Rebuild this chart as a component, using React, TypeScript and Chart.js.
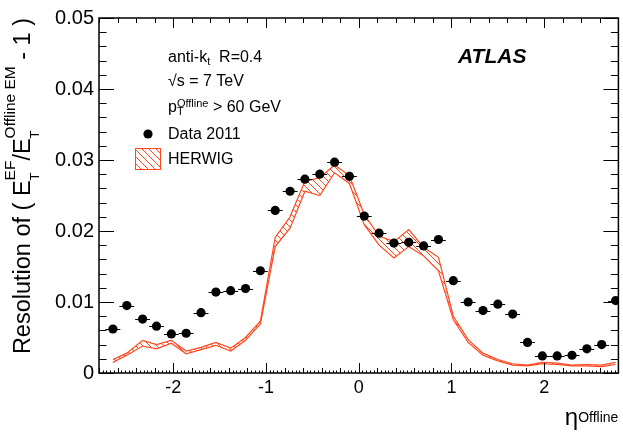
import React, { useEffect, useRef } from "react";
import { Chart, registerables } from "chart.js";

Chart.register(...registerables);

// ---- data ----
const ETA = [
  -2.65, -2.5, -2.33, -2.18, -2.02, -1.86, -1.7, -1.54, -1.38, -1.22, -1.06, -0.9,
  -0.74, -0.58, -0.42, -0.26, -0.1, 0.06, 0.22, 0.38, 0.54, 0.7, 0.86, 1.02,
  1.18, 1.34, 1.5, 1.66, 1.82, 1.98, 2.14, 2.3, 2.46, 2.62, 2.77,
];
const DATA_2011 = [
  0.0062, 0.0095, 0.0076, 0.0066, 0.0055, 0.0056, 0.0085, 0.0114, 0.0116, 0.0119, 0.0144, 0.0229,
  0.0256, 0.0273, 0.028, 0.0297, 0.0277, 0.0221, 0.0197, 0.0183, 0.0184, 0.0179, 0.0188, 0.013,
  0.01, 0.0088, 0.0097, 0.0083, 0.0043, 0.0024, 0.0024, 0.0025, 0.0034, 0.004, 0.0102,
];
const HERWIG_UP = [
  0.0019, 0.0028, 0.0046, 0.004, 0.0046, 0.0031, 0.0036, 0.0043, 0.0035, 0.005, 0.0073, 0.0191,
  0.022, 0.027, 0.0275, 0.0293, 0.0278, 0.0223, 0.0193, 0.0185, 0.0202, 0.0177, 0.0163, 0.008,
  0.0047, 0.0028, 0.0019, 0.0013, 0.0011, 0.0015, 0.0014, 0.0011, 0.0012, 0.0011, 0.0015,
];
const HERWIG_LO = [
  0.0015, 0.0025, 0.0038, 0.0034, 0.0042, 0.0027, 0.0033, 0.0039, 0.0031, 0.0046, 0.0069, 0.0178,
  0.0204, 0.0256, 0.025, 0.0282, 0.0267, 0.0209, 0.018, 0.0162, 0.0178, 0.0165, 0.0144, 0.0075,
  0.0043, 0.0025, 0.0017, 0.0011, 0.001, 0.0013, 0.0012, 0.001, 0.001, 0.0009, 0.0012,
];
const ETA_HALF_BIN = 0.08;
const X_MIN = -2.8;
const X_MAX = 2.8;
const Y_MIN = 0;
const Y_MAX = 0.05;

const FONT = '"Liberation Sans", Arial, Helvetica, sans-serif';
const ORANGE = "rgb(255,72,30)";

type Run = { t: string; size: number; dy?: number; bold?: boolean; italic?: boolean };
type Item = Run | Run[];

function fontOf(r: Run) {
  return `${r.italic ? "italic " : ""}${r.bold ? "bold " : ""}${r.size}px ${FONT}`;
}
function richWidth(ctx: CanvasRenderingContext2D, items: Item[]) {
  let w = 0;
  for (const it of items) {
    const runs = Array.isArray(it) ? it : [it];
    let m = 0;
    for (const r of runs) {
      ctx.font = fontOf(r);
      m = Math.max(m, ctx.measureText(r.t).width);
    }
    w += m;
  }
  return w;
}
function drawRich(ctx: CanvasRenderingContext2D, items: Item[], x: number, y: number) {
  let cx = x;
  for (const it of items) {
    const runs = Array.isArray(it) ? it : [it];
    let m = 0;
    for (const r of runs) {
      ctx.font = fontOf(r);
      ctx.fillText(r.t, cx, y + (r.dy || 0));
      m = Math.max(m, ctx.measureText(r.t).width);
    }
    cx += m;
  }
  return cx - x;
}

function makeHatch(color: string) {
  const s = 7;
  const c = document.createElement("canvas");
  c.width = s;
  c.height = s;
  const g = c.getContext("2d")!;
  g.strokeStyle = color;
  g.lineWidth = 1;
  g.beginPath();
  g.moveTo(-1, -1);
  g.lineTo(s + 1, s + 1);
  g.moveTo(s - 1, -1);
  g.lineTo(s + 1, 1);
  g.moveTo(-1, s - 1);
  g.lineTo(1, s + 1);
  g.stroke();
  return g.createPattern(c, "repeat")!;
}

export default function App() {
  const ref = useRef<HTMLCanvasElement>(null);

  useEffect(() => {
    document.body.style.margin = "0";
    document.body.style.overflow = "hidden";
    const canvas = ref.current!;
    const hatch = makeHatch(ORANGE);

    const errorBars = {
      id: "errorBars",
      afterDatasetsDraw(chart: any) {
        const { ctx, chartArea: a, scales } = chart;
        const xs = scales.x;
        const ys = scales.y;
        ctx.save();
        ctx.beginPath();
        ctx.rect(a.left, a.top, a.right - a.left, a.bottom - a.top);
        ctx.clip();
        ctx.strokeStyle = "#000";
        ctx.lineWidth = 1;
        ETA.forEach((e, i) => {
          const y = Math.round(ys.getPixelForValue(DATA_2011[i])) + 0.5;
          ctx.beginPath();
          ctx.moveTo(xs.getPixelForValue(e - ETA_HALF_BIN), y);
          ctx.lineTo(xs.getPixelForValue(e + ETA_HALF_BIN), y);
          ctx.stroke();
        });
        ctx.restore();
      },
    };

    const frame = {
      id: "frameDecor",
      afterDraw(chart: any) {
        const { ctx, chartArea: a, scales } = chart;
        const xs = scales.x;
        const ys = scales.y;
        ctx.save();
        ctx.strokeStyle = "#000";
        ctx.lineWidth = 1;
        const line = (x1: number, y1: number, x2: number, y2: number) => {
          ctx.beginPath();
          ctx.moveTo(x1, y1);
          ctx.lineTo(x2, y2);
          ctx.stroke();
        };
        // y ticks (left and right)
        for (let i = 0; i <= 25; i++) {
          const v = Y_MIN + i * 0.002;
          const y = Math.round(ys.getPixelForValue(v)) + 0.5;
          const len = i % 5 === 0 ? 15 : 7.5;
          line(a.left, y, a.left + len, y);
          line(a.right, y, a.right - len, y);
        }
        // x ticks (bottom and top)
        for (let i = -70; i <= 70; i++) {
          const v = i * 0.04;
          if (v < X_MIN - 1e-9 || v > X_MAX + 1e-9) continue;
          const x = Math.round(xs.getPixelForValue(v)) + 0.5;
          const major = i % 25 === 0;
          const minor = i % 5 === 0;
          const lenB = major ? 10 : minor ? 5 : 2.5;
          line(x, a.bottom, x, a.bottom - lenB);
          if (major || minor) line(x, a.top, x, a.top + (major ? 10 : 5));
        }
        ctx.lineWidth = 1.5;
        ctx.strokeRect(a.left, a.top, a.right - a.left, a.bottom - a.top);

        ctx.fillStyle = "#000";
        ctx.textAlign = "left";
        ctx.textBaseline = "alphabetic";

        // y axis title (rotated, aligned to top end of the axis)
        const yTitle: Item[] = [
          { t: "Resolution of ( E", size: 23.5 },
          [
            { t: "T", size: 13, dy: 9 },
            { t: "EF", size: 15.5, dy: -15 },
          ],
          { t: "/E", size: 23.5 },
          [
            { t: "T", size: 13, dy: 9 },
            { t: "Offline EM", size: 15.5, dy: -15 },
          ],
          { t: " - 1 )", size: 23.5 },
        ];
        const tw = richWidth(ctx, yTitle);
        ctx.save();
        ctx.translate(30, a.top);
        ctx.rotate(-Math.PI / 2);
        drawRich(ctx, yTitle, -tw, 0);
        ctx.restore();

        // x axis title (aligned to right end of the axis)
        const xTitle: Item[] = [
          { t: "\u03B7", size: 24 },
          { t: "Offline", size: 14, dy: -3 },
        ];
        const xw = richWidth(ctx, xTitle);
        drawRich(ctx, xTitle, a.right - xw, 425);

        // annotations
        const S = 16;
        drawRich(ctx, [{ t: "anti-k", size: S }, { t: "t", size: 11, dy: 3 }, { t: "  R=0.4", size: S }], 168, 62);
        drawRich(ctx, [{ t: "\u221As = 7 TeV", size: S }], 168, 86);
        drawRich(
          ctx,
          [
            { t: "p", size: S },
            [
              { t: "T", size: 11, dy: 3 },
              { t: "Offline", size: 11, dy: -5 },
            ],
            { t: " > 60 GeV", size: S },
          ],
          168,
          112
        );
        drawRich(ctx, [{ t: "Data 2011", size: S }], 168, 139);
        drawRich(ctx, [{ t: "HERWIG", size: S }], 168, 164);

        // legend glyphs
        ctx.beginPath();
        ctx.arc(148, 134, 4.6, 0, Math.PI * 2);
        ctx.fill();
        ctx.fillStyle = hatch;
        ctx.fillRect(135, 148, 25, 21);
        ctx.strokeStyle = ORANGE;
        ctx.lineWidth = 1;
        ctx.strokeRect(135.5, 148.5, 25, 21);

        // ATLAS label
        ctx.fillStyle = "#000";
        ctx.font = `italic bold 21px ${FONT}`;
        ctx.fillText("ATLAS", 458, 63);
        ctx.restore();
      },
    };

    const chart = new Chart(canvas, {
      type: "line",
      data: {
        datasets: [
          {
            label: "Data 2011",
            data: ETA.map((x, i) => ({ x, y: DATA_2011[i] })),
            showLine: false,
            pointStyle: "circle",
            pointRadius: 4.6,
            pointBackgroundColor: "#000",
            pointBorderWidth: 0,
            borderColor: "#000",
            order: 0,
          },
          {
            label: "HERWIG",
            data: ETA.map((x, i) => ({ x, y: HERWIG_UP[i] })),
            borderColor: ORANGE,
            borderWidth: 1.2,
            backgroundColor: hatch as any,
            fill: "+1",
            pointRadius: 0,
            tension: 0,
            order: 1,
          },
          {
            label: "HERWIG low",
            data: ETA.map((x, i) => ({ x, y: HERWIG_LO[i] })),
            borderColor: ORANGE,
            borderWidth: 1.2,
            fill: false,
            pointRadius: 0,
            tension: 0,
            order: 2,
          },
        ],
      },
      options: {
        animation: false,
        responsive: false,
        devicePixelRatio: 1,
        events: [],
        layout: { padding: { left: 0, right: 1, top: 18, bottom: 0 } },
        plugins: { legend: { display: false }, tooltip: { enabled: false } },
        scales: {
          x: {
            type: "linear",
            min: X_MIN,
            max: X_MAX,
            grid: { display: false, drawTicks: false },
            border: { display: false },
            ticks: {
              stepSize: 1,
              includeBounds: false,
              padding: 4,
              color: "#000",
              font: { family: FONT, size: 18 },
              callback: (v: any) => String(v),
            },
            afterFit: (s: any) => {
              s.height = 63;
            },
          },
          y: {
            type: "linear",
            min: Y_MIN,
            max: Y_MAX,
            grid: { display: false, drawTicks: false },
            border: { display: false },
            ticks: {
              stepSize: 0.01,
              padding: 5,
              color: "#000",
              font: { family: FONT, size: 20 },
              callback: (v: any) => (Number(v) === 0 ? "0" : Number(v).toFixed(2)),
            },
            afterFit: (s: any) => {
              s.width = 99;
            },
          },
        },
      },
      plugins: [errorBars, frame],
    });
    return () => chart.destroy();
  }, []);

  return (
    <div style={{ width: 623, height: 436 }}>
      <canvas ref={ref} width={623} height={436} style={{ display: "block", width: 623, height: 436 }} />
    </div>
  );
}
